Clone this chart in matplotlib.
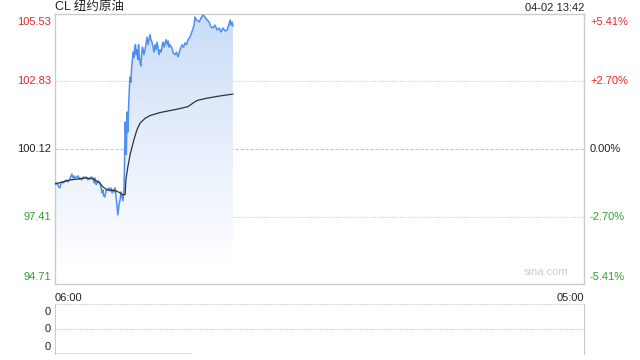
import matplotlib
matplotlib.use('Agg')
import matplotlib.pyplot as plt
import numpy as np
from matplotlib.colors import LinearSegmentedColormap
from matplotlib.patches import Polygon

plt.rcParams['font.family'] = ['Liberation Sans', 'Noto Sans CJK SC', 'DejaVu Sans']

# minutes after 06:00 and price
t_price = [0, 3, 5, 8, 10, 13, 16, 18, 22, 26, 30, 34, 39, 42, 44, 47, 50, 52, 56, 60,
           63, 65, 70, 74, 78, 82, 86, 89, 91, 95, 99, 102, 104, 107, 110, 113, 117, 120, 123, 125,
           127, 130, 133, 136, 140, 143, 146, 149, 152, 155, 157, 160, 164, 167, 170, 172, 175, 177, 179, 180,
           181, 183, 185, 186, 188, 190, 192, 194, 196, 198, 200, 202, 204, 206, 208, 210, 212, 214, 216, 218,
           220, 222, 224, 226, 228, 230, 232, 235, 238, 240, 243, 245, 248, 250, 253, 256, 258, 261, 264, 266,
           269, 271, 274, 277, 280, 282, 285, 287, 290, 293, 295, 298, 300, 305, 309, 313, 317, 321, 326, 331,
           335, 339, 343, 347, 352, 357, 363, 365, 370, 376, 381, 386, 391, 397, 402, 407, 412, 417, 423, 428,
           433, 438, 444, 449, 454, 457, 459, 462, 464]
price = [98.76, 98.72, 98.76, 98.68, 98.60, 98.56, 98.76, 98.80, 98.76, 98.84, 98.88, 98.80, 98.92, 99.04, 99.12, 98.96, 99.04, 98.96, 99.00, 99.04,
         98.92, 98.96, 98.88, 99.00, 98.96, 99.00, 98.88, 98.92, 98.96, 99.00, 98.96, 98.76, 98.96, 98.70, 98.76, 98.84, 98.76, 98.56, 98.36, 98.48,
         98.24, 98.20, 98.44, 98.48, 98.56, 98.44, 98.56, 98.36, 98.50, 98.40, 98.56, 98.12, 97.48, 97.90, 98.10, 98.40, 98.20, 98.05, 98.30, 98.60,
         99.20, 101.20, 100.60, 99.90, 101.60, 100.80, 101.80, 102.60, 103.00, 102.80, 103.40, 103.70, 104.00, 103.80, 104.20, 104.30, 103.90, 104.10, 103.70, 104.30,
         103.80, 103.60, 103.45, 103.90, 104.20, 104.10, 103.90, 104.10, 104.40, 104.60, 104.30, 104.50, 104.70, 104.50, 104.40, 104.20, 104.00, 104.30, 104.10, 104.40,
         104.20, 103.90, 104.10, 104.00, 104.30, 104.40, 104.20, 104.35, 104.50, 104.30, 104.45, 104.20, 104.29, 104.17, 103.95, 103.90, 104.00, 103.81, 104.09, 104.29,
         104.20, 104.37, 104.30, 104.49, 104.61, 104.81, 105.09, 105.41, 105.29, 105.21, 105.37, 105.49, 105.41, 105.29, 105.21, 105.01, 104.97, 105.09, 104.89, 104.97,
         104.81, 104.97, 104.85, 104.89, 105.13, 105.29, 105.09, 105.21, 105.05]

t_avg = [0, 20, 40, 60, 80, 100, 117, 125, 136, 150, 160, 170, 177, 183, 185, 190, 196, 201, 206, 214,
         222, 235, 248, 274, 300, 326, 347, 360, 370, 391, 420, 445, 464]
avg = [98.72, 98.80, 98.88, 98.92, 98.96, 98.92, 98.76, 98.60, 98.48, 98.46, 98.44, 98.36, 98.28, 98.30, 98.90, 99.40, 99.90, 100.20, 100.50, 100.90,
       101.16, 101.35, 101.46, 101.58, 101.66, 101.74, 101.82, 101.96, 102.06, 102.14, 102.22, 102.28, 102.32]

t_vol = [0, 352]
vol = [0, 0]

prev_close = 100.12
y_ticks = [105.53, 102.83, 100.12, 97.41, 94.71]
pct_labels = ['+5.41%', '+2.70%', '0.00%', '-2.70%', '-5.41%']
tick_colors = ['#e8262a', '#e8262a', '#222222', '#2aa52a', '#2aa52a']

fig = plt.figure(figsize=(6.4, 3.6), dpi=100)
ax = fig.add_axes([55 / 640, 1 - 284 / 360, 529 / 640, 270 / 360])
ax.set_xlim(0, 1380)
ax.set_ylim(94.71, 105.53)
ax.set_xticks([])
ax.set_yticks([])
for s in ax.spines.values():
    s.set_color('#cccccc')
    s.set_linewidth(1)

for v in y_ticks[1:-1]:
    ls = (0, (3, 1.5)) if v == prev_close else (0, (1, 1.5))
    ax.axhline(v, color='#c8c8c8', lw=0.8, ls=ls, zorder=1)

# gradient fill under the price line
base = 95.51
poly = np.column_stack([t_price + [t_price[-1], t_price[0]], price + [base, base]])
patch = Polygon(poly, closed=True, facecolor='none', edgecolor='none')
ax.add_patch(patch)
cmap = LinearSegmentedColormap.from_list('g', ['#fdfeff', '#e6eefb', '#c9dcf7'])
grad = np.linspace(0, 1, 200).reshape(-1, 1)
im = ax.imshow(grad, cmap=cmap, aspect='auto', origin='lower',
               extent=[0, t_price[-1], base, 105.53], zorder=2)
im.set_clip_path(patch)

ax.plot(t_price, price, color='#4f8ff0', lw=1.1, zorder=4)
ax.plot(t_avg, avg, color='#333333', lw=0.9, zorder=5)

for v, lab, c, pc in zip(y_ticks, y_ticks, tick_colors, pct_labels):
    if v == y_ticks[0]:
        va, dy = 'top', -3
    elif v == y_ticks[-1]:
        va, dy = 'bottom', 2
    else:
        va, dy = 'center', 0
    ax.annotate('%.2f' % lab, xy=(0, v), xycoords=('axes fraction', 'data'),
                xytext=(-4, dy), textcoords='offset pixels', ha='right', va=va,
                fontsize=8, color=c)
    ax.annotate(pc, xy=(1, v), xycoords=('axes fraction', 'data'),
                xytext=(6, dy), textcoords='offset pixels', ha='left', va=va,
                fontsize=8, color=c)

ax.text(0, 1.005, 'CL 纽约原油', transform=ax.transAxes, ha='left', va='bottom',
        fontsize=9, color='#222222')
ax.text(1, 1.005, '04-02 13:42', transform=ax.transAxes, ha='right', va='bottom',
        fontsize=8, color='#222222')
ax.text(0.97, 0.025, 'sina.com', transform=ax.transAxes, ha='right', va='bottom',
        fontsize=8, color='#cccccc')
ax.text(0, -0.035, '06:00', transform=ax.transAxes, ha='left', va='top',
        fontsize=8, color='#222222')
ax.text(1, -0.035, '05:00', transform=ax.transAxes, ha='right', va='top',
        fontsize=8, color='#222222')

# volume panel
ax2 = fig.add_axes([55 / 640, 6 / 360, 529 / 640, 50 / 360])
ax2.set_xlim(0, 1380)
ax2.set_ylim(0, 1)
ax2.set_xticks([])
ax2.set_yticks([])
ax2.spines['top'].set_visible(False)
ax2.spines['bottom'].set_visible(False)
ax2.spines['left'].set_color('#cccccc')
ax2.spines['right'].set_color('#cccccc')
for v in [0, 0.5, 1]:
    ax2.axhline(v, color='#c8c8c8', lw=0.8, ls=(0, (1, 1)), zorder=1)
ax2.plot(t_vol, vol, color='#666666', lw=1.0, zorder=3)
for y, va, dy in [(1, 'top', -3), (0.5, 'center', 0), (0, 'bottom', 2)]:
    ax2.annotate('0', xy=(0, y), xycoords='axes fraction', xytext=(-4, dy),
                 textcoords='offset pixels', ha='right', va=va, fontsize=8, color='#222222')

fig.savefig('out.png', dpi=100)
